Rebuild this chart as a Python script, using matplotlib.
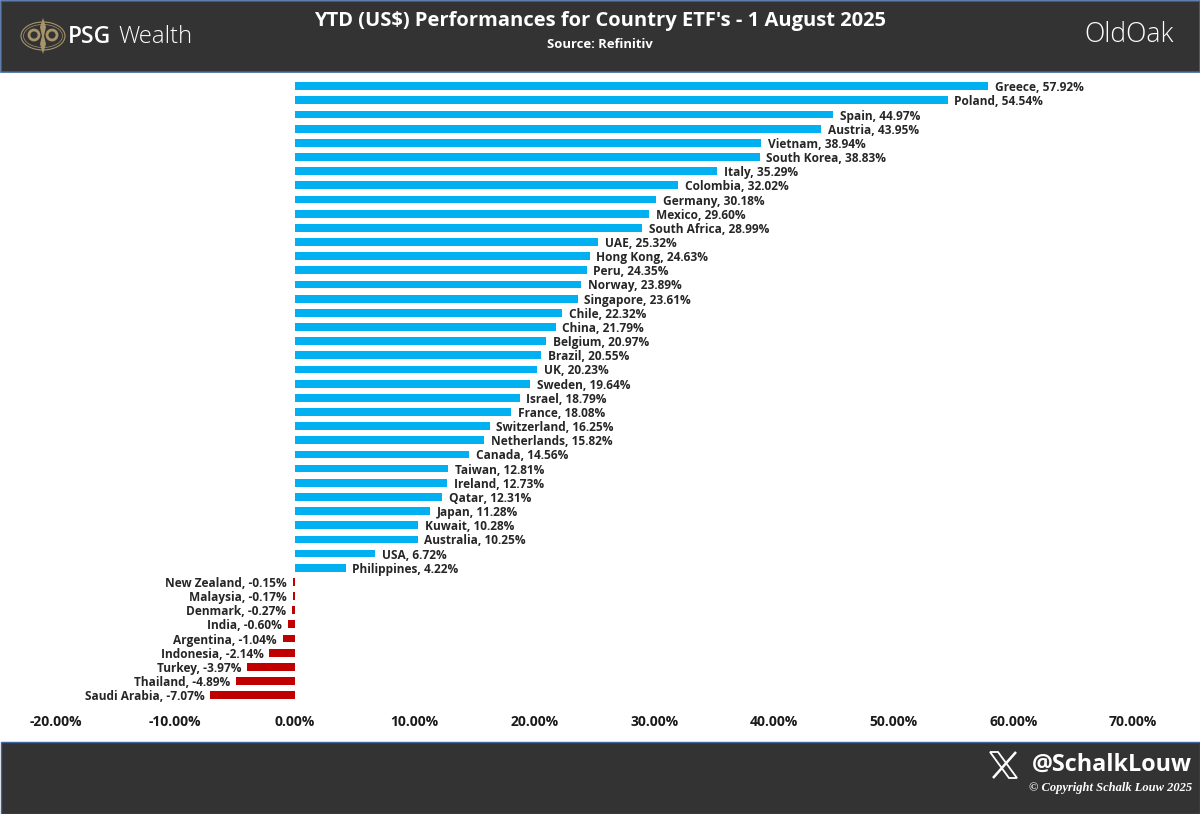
import numpy as np
import matplotlib
matplotlib.use('Agg')
import matplotlib.pyplot as plt
from matplotlib.patches import Rectangle, Ellipse, Polygon

plt.rcParams['font.family'] = ['Open Sans', 'DejaVu Sans']

countries = ['Greece', 'Poland', 'Spain', 'Austria', 'Vietnam', 'South Korea', 'Italy', 'Colombia',
             'Germany', 'Mexico', 'South Africa', 'UAE', 'Hong Kong', 'Peru', 'Norway', 'Singapore',
             'Chile', 'China', 'Belgium', 'Brazil', 'UK', 'Sweden', 'Israel', 'France', 'Switzerland',
             'Netherlands', 'Canada', 'Taiwan', 'Ireland', 'Qatar', 'Japan', 'Kuwait', 'Australia',
             'USA', 'Philippines', 'New Zealand', 'Malaysia', 'Denmark', 'India', 'Argentina',
             'Indonesia', 'Turkey', 'Thailand', 'Saudi Arabia']
values = [57.92, 54.54, 44.97, 43.95, 38.94, 38.83, 35.29, 32.02, 30.18, 29.60, 28.99, 25.32,
          24.63, 24.35, 23.89, 23.61, 22.32, 21.79, 20.97, 20.55, 20.23, 19.64, 18.79, 18.08,
          16.25, 15.82, 14.56, 12.81, 12.73, 12.31, 11.28, 10.28, 10.25, 6.72, 4.22, -0.15,
          -0.17, -0.27, -0.60, -1.04, -2.14, -3.97, -4.89, -7.07]
x_ticks = [-20, -10, 0, 10, 20, 30, 40, 50, 60, 70]

W, H = 1200, 814
BLUE = '#00B0F0'
RED = '#C00000'
DARK = '#333333'
EDGE = '#3F62A0'
GOLD = '#A8946A'

fig = plt.figure(figsize=(W / 100, H / 100), dpi=100, facecolor='white')

# chart axes, placed so that -20 and 70 land on the reference pixels
x_left, x_right = 55.6, 1133.0
row_step = 14.163
y_top = 86.2 - row_step / 2
y_bot = 695.2 + row_step / 2
ax = fig.add_axes([x_left / W, 1 - y_bot / H, (x_right - x_left) / W, (y_bot - y_top) / H])
ax.patch.set_alpha(0)

vals = np.array(values)
ypos = np.arange(len(countries))
colors = [BLUE if v >= 0 else RED for v in vals]
ax.barh(ypos, vals, height=0.55, color=colors, linewidth=0)

for y, name, v in zip(ypos, countries, vals):
    label = f'{name}, {v:.2f}%'
    if v >= 0:
        ax.annotate(label, (v, y), xytext=(6.5, 0), textcoords='offset pixels', ha='left',
                    va='center_baseline', fontsize=8.6, fontweight='bold', color='#262626')
    else:
        ax.annotate(label, (v, y), xytext=(-6, 0), textcoords='offset pixels', ha='right',
                    va='center_baseline', fontsize=8.6, fontweight='bold', color='#262626')

ax.set_xlim(-20, 70)
ax.set_ylim(len(countries) - 0.5, -0.5)
ax.set_yticks([])
ax.set_xticks(x_ticks)
ax.set_xticklabels([f'{t:.2f}%' for t in x_ticks], fontsize=10, fontweight='bold', color='#1a1a1a')
ax.tick_params(axis='x', length=0, pad=9)
for s in ax.spines.values():
    s.set_visible(False)

# overlay in pixel coordinates for the header and footer bands
ov = fig.add_axes([0, 0, 1, 1], zorder=-1)
ov.set_xlim(0, W)
ov.set_ylim(H, 0)
ov.axis('off')
ov.add_patch(Rectangle((0.5, 0.5), W - 1, 71.5, facecolor=DARK, edgecolor=EDGE, linewidth=1.2))
ov.add_patch(Rectangle((0.5, 742), W - 1, 72, facecolor=DARK, edgecolor=EDGE, linewidth=1.0))

top = fig.add_axes([0, 0, 1, 1], zorder=5)
top.set_xlim(0, W)
top.set_ylim(H, 0)
top.axis('off')
top.patch.set_alpha(0)

top.text(600, 21, "YTD (US$) Performances for Country ETF's - 1 August 2025", ha='center', va='center',
         fontsize=14.5, fontweight='bold', color='white')
top.text(600, 44, 'Source: Refinitiv', ha='center', va='center', fontsize=9.4, fontweight='bold', color='white')

# PSG logo
top.add_patch(Ellipse((43, 36), 44, 28, fill=False, edgecolor=GOLD, linewidth=0.8))
top.add_patch(Ellipse((43, 36), 39, 23, fill=False, edgecolor=GOLD, linewidth=0.5))
top.add_patch(Ellipse((34, 35), 10, 10, fill=False, edgecolor=GOLD, linewidth=2))
top.add_patch(Ellipse((52, 35), 10, 10, fill=False, edgecolor=GOLD, linewidth=2))
top.add_patch(Polygon([[43, 18], [46, 27], [44, 36], [46, 44], [43, 54], [40, 44], [42, 36], [40, 27]],
                      closed=True, facecolor=GOLD, edgecolor='none'))
top.text(68, 37, 'PSG', ha='left', va='center', fontsize=16.5, fontweight='semibold', color='white')
top.text(118.5, 37, 'Wealth', ha='left', va='center', fontsize=17.2, fontweight='light', color='white')

top.text(1129.5, 35, 'OldOak', ha='center', va='center', fontsize=19.2, fontweight='light', color='white')

# X logo
top.add_patch(Polygon([[990, 752], [998, 752], [1017, 778], [1009, 778]], closed=True,
                      facecolor=DARK, edgecolor='white', linewidth=1.3))
top.plot([1016, 993], [752, 778], color='white', linewidth=1.8, solid_capstyle='butt')
top.text(1192, 765, '@SchalkLouw', ha='right', va='center', fontsize=16.8, fontweight='bold', color='white')
top.text(1192, 787.5, '© Copyright Schalk Louw 2025', ha='right', va='center', fontsize=9, fontweight='bold',
         style='italic', family=['Liberation Serif', 'DejaVu Serif'], color='white')

fig.savefig('out.png', dpi=100, facecolor='white')
